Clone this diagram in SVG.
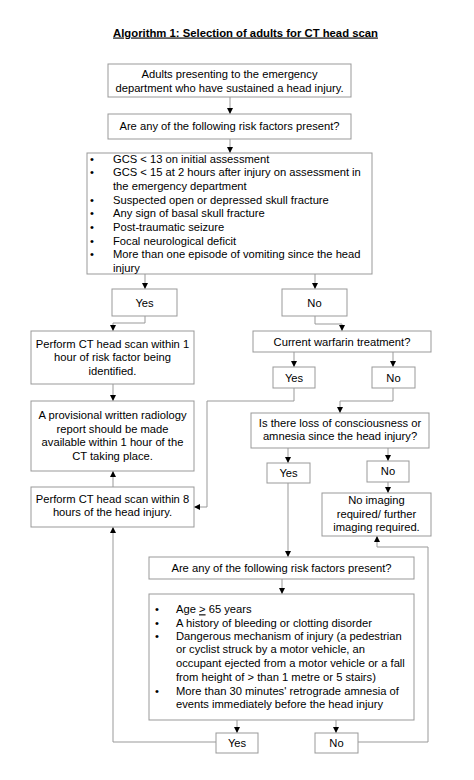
<svg xmlns="http://www.w3.org/2000/svg" width="474" height="780" viewBox="0 0 474 780">
<style>
  text { font-family: "Liberation Sans", Arial, sans-serif; font-size: 11.2px; fill: #000; }
  .c { text-anchor: middle; }
  .title { font-weight: bold; font-size: 11.3px; text-decoration: underline; }
  .box { fill: #fff; stroke: #999; stroke-width: 1; }
  .ln { fill: none; stroke: #999; stroke-width: 1; }
  .ar { fill: none; stroke: #999; stroke-width: 1; marker-end: url(#ah); }
</style>
<defs>
  <marker id="ah" markerUnits="userSpaceOnUse" markerWidth="7" markerHeight="7" refX="6" refY="3" orient="auto">
    <path d="M0,0 L6,3 L0,6 z" fill="#000"/>
  </marker>
</defs>
<rect width="474" height="780" fill="#fff"/>
<text class="title c" x="245.5" y="36.5">Algorithm 1: Selection of adults for CT head scan</text>

<g id="connectors">
  <path class="ar" d="M230,97 V114"/>
  <path class="ar" d="M230,139 V153"/>
  <path class="ar" d="M145,274 V289"/>
  <path class="ar" d="M315,274 V289"/>
  <path class="ar" d="M145,316 V323 H113 V331"/>
  <path class="ar" d="M315,316 V324 H342 V331"/>
  <path class="ar" d="M113,384 V401"/>
  <path class="ar" d="M113,487 V471"/>
  <path class="ar" d="M294,352 V367"/>
  <path class="ar" d="M393,352 V367"/>
  <path class="ar" d="M294,388 V401 H207 V507 H194"/>
  <path class="ar" d="M393,388 V401 H340 V413"/>
  <path class="ar" d="M288,448 V463"/>
  <path class="ar" d="M388,448 V461"/>
  <path class="ar" d="M388,482 V493"/>
  <path class="ar" d="M288,483 V557"/>
  <path class="ar" d="M282,579 V594"/>
  <path class="ar" d="M237,720 V733"/>
  <path class="ar" d="M336,720 V733"/>
  <path class="ar" d="M216,742 H113 V527"/>
  <path class="ar" d="M358,742 H428 V547 H377 V536"/>
</g>

<g id="n1">
  <rect class="box" x="108" y="64" width="243" height="33"/>
  <text class="c" x="229.5" y="78">Adults presenting to the emergency</text>
  <text class="c" x="229.5" y="91.7">department who have sustained a head injury.</text>
</g>
<g id="n2">
  <rect class="box" x="108" y="114" width="243" height="25"/>
  <text class="c" x="229.5" y="130">Are any of the following risk factors present?</text>
</g>
<g id="n3">
  <rect class="box" x="87" y="153" width="285" height="121"/>
  <text x="90" y="162.5">•</text><text x="113" y="162.5">GCS &lt; 13 on initial assessment</text>
  <text x="90" y="176.2">•</text><text x="113" y="176.2">GCS &lt; 15 at 2 hours after injury on assessment in</text>
  <text x="113" y="189.9">the emergency department</text>
  <text x="90" y="203.6">•</text><text x="113" y="203.6">Suspected open or depressed skull fracture</text>
  <text x="90" y="217.3">•</text><text x="113" y="217.3">Any sign of basal skull fracture</text>
  <text x="90" y="231">•</text><text x="113" y="231">Post-traumatic seizure</text>
  <text x="90" y="244.7">•</text><text x="113" y="244.7">Focal neurological deficit</text>
  <text x="90" y="258.4">•</text><text x="113" y="258.4">More than one episode of vomiting since the head</text>
  <text x="113" y="272">injury</text>
</g>
<g id="n4">
  <rect class="box" x="112" y="289" width="65" height="27"/>
  <text class="c" x="144.5" y="306.5">Yes</text>
</g>
<g id="n5">
  <rect class="box" x="282" y="289" width="65" height="27"/>
  <text class="c" x="314.5" y="306.5">No</text>
</g>
<g id="n6">
  <rect class="box" x="31" y="331" width="163" height="53"/>
  <text class="c" x="112.5" y="347.5">Perform CT head scan within 1</text>
  <text class="c" x="112.5" y="361">hour of risk factor being</text>
  <text class="c" x="112.5" y="374.5">identified.</text>
</g>
<g id="n7">
  <rect class="box" x="253" y="331" width="178" height="21"/>
  <text class="c" x="342" y="345.5">Current warfarin treatment?</text>
</g>
<g id="n8">
  <rect class="box" x="273" y="367" width="42" height="21"/>
  <text class="c" x="294" y="381.5">Yes</text>
</g>
<g id="n9">
  <rect class="box" x="372" y="367" width="43" height="21"/>
  <text class="c" x="393.5" y="381.5">No</text>
</g>
<g id="n10">
  <rect class="box" x="31" y="401" width="163" height="70"/>
  <text class="c" x="112.5" y="419">A provisional written radiology</text>
  <text class="c" x="112.5" y="432.5">report should be made</text>
  <text class="c" x="112.5" y="446">available within 1 hour of the</text>
  <text class="c" x="112.5" y="459.5">CT taking place.</text>
</g>
<g id="n11">
  <rect class="box" x="31" y="487" width="163" height="40"/>
  <text class="c" x="112.5" y="502.5">Perform CT head scan within 8</text>
  <text class="c" x="112.5" y="516">hours of the head injury.</text>
</g>
<g id="n12">
  <rect class="box" x="251" y="413" width="178" height="35"/>
  <text class="c" x="340" y="426.7">Is there loss of consciousness or</text>
  <text class="c" x="340" y="440">amnesia since the head injury?</text>
</g>
<g id="n13">
  <rect class="box" x="267" y="463" width="43" height="20"/>
  <text class="c" x="288.5" y="476.5">Yes</text>
</g>
<g id="n14">
  <rect class="box" x="367" y="461" width="42" height="21"/>
  <text class="c" x="388" y="475">No</text>
</g>
<g id="n15">
  <rect class="box" x="322" y="493" width="109" height="43"/>
  <text class="c" x="376.5" y="504">No imaging</text>
  <text class="c" x="376.5" y="517.5">required/ further</text>
  <text class="c" x="376.5" y="531">imaging required.</text>
</g>
<g id="n16">
  <rect class="box" x="149" y="557" width="265" height="22"/>
  <text class="c" x="281.5" y="572">Are any of the following risk factors present?</text>
</g>
<g id="n17">
  <rect class="box" x="149" y="594" width="265" height="126"/>
  <text x="155" y="613.3">•</text><text x="176" y="613.3">Age <tspan text-decoration="underline">&gt;</tspan> 65 years</text>
  <text x="155" y="626.7">•</text><text x="176" y="626.7">A history of bleeding or clotting disorder</text>
  <text x="155" y="640">•</text><text x="176" y="640">Dangerous mechanism of injury (a pedestrian</text>
  <text x="176" y="653.3">or cyclist struck by a motor vehicle, an</text>
  <text x="176" y="667">occupant ejected from a motor vehicle or a fall</text>
  <text x="176" y="680.5">from height of &gt; than 1 metre or 5 stairs)</text>
  <text x="155" y="694.5">•</text><text x="176" y="694.5">More than 30 minutes' retrograde amnesia of</text>
  <text x="176" y="708">events immediately before the head injury</text>
</g>
<g id="n18">
  <rect class="box" x="216" y="733" width="42" height="20"/>
  <text class="c" x="237" y="747">Yes</text>
</g>
<g id="n19">
  <rect class="box" x="315" y="733" width="43" height="20"/>
  <text class="c" x="336.5" y="747">No</text>
</g>
</svg>
